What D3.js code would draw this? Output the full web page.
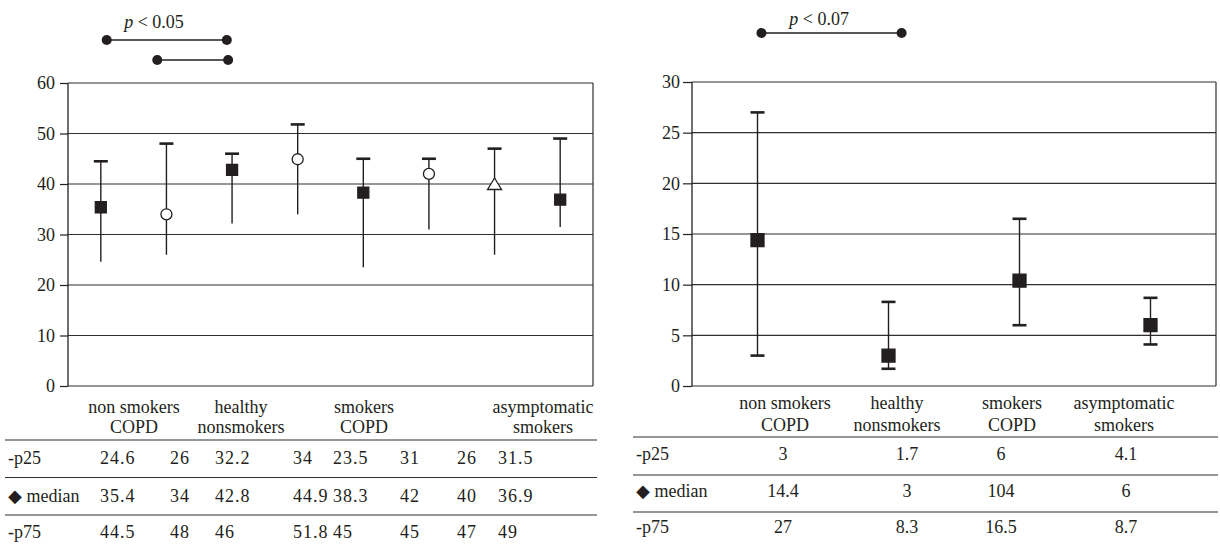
<!DOCTYPE html>
<html lang="en">
<head>
<meta charset="utf-8">
<title>COPD groups</title>
<style>
  body { margin: 0; background: #fff; }
  svg text { font-family: "Liberation Serif", "Times New Roman", serif; fill: #231f20; font-size: 18px; }
  .grid line, .rule { stroke: #2e2e2e; stroke-width: 1.2; }
  .num { letter-spacing: 1px; }
</style>
</head>
<body>
<div id="container"></div>
<script src="https://cdnjs.cloudflare.com/ajax/libs/d3/7.8.5/d3.min.js"></script>
<script>
// ---- data, left panel (8 measurements) ----
var leftShapes = ["square", "circle", "square", "circle", "square", "circle", "triangle", "square"];
var leftP25 = [24.6, 26, 32.2, 34, 23.5, 31, 26, 31.5];
var leftMedian = [35.4, 34, 42.8, 44.9, 38.3, 42, 40, 36.9];
var leftP75 = [44.5, 48, 46, 51.8, 45, 45, 47, 49];
var leftTicks = [0, 10, 20, 30, 40, 50, 60];

// ---- data, right panel (4 groups) ----
var rightP25 = [3, 1.7, 6, 4.1];
var rightMedian = [14.4, 3, 10.4, 6];
var rightP75 = [27, 8.3, 16.5, 8.7];
var rightTicks = [0, 5, 10, 15, 20, 25, 30];
// the table under the right chart prints the median of smokers COPD as "104"
var rightMedianText = ["14.4", "3", "104", "6"];

var groupNames = [["non smokers", "COPD"], ["healthy", "nonsmokers"], ["smokers", "COPD"], ["asymptomatic", "smokers"]];
var rowNames = ["-p25", "\u25C6 median", "-p75"];

// significance brackets, ends given in category-index units
var leftBrackets = [{from: 0.09, to: 1.92, label: "0.05", at: 0.81}, {from: 0.86, to: 1.94}];
var rightBrackets = [{from: 0.03, to: 1.1, label: "0.07", at: 0.47}];

var svg = d3.select("#container").append("svg")
  .attr("width", 1220)
  .attr("height", 547);

function drawPanel(o) {
  var n = o.median.length;
  var g = svg.append("g");

  var x = d3.scaleLinear().domain([-0.5, n - 0.5]).range([o.x0, o.x1]);
  var y = d3.scaleLinear().domain([0, o.ticks[o.ticks.length - 1]]).range([386, o.yTop]);

  // horizontal gridlines
  g.append("g").attr("class", "grid")
    .selectAll("line").data(o.ticks).enter().append("line")
    .attr("x1", o.x0).attr("x2", o.x1)
    .attr("y1", function(d) { return y(d); })
    .attr("y2", function(d) { return y(d); });

  // right border
  g.append("line").attr("class", "rule")
    .attr("x1", o.x1).attr("x2", o.x1).attr("y1", y.range()[0]).attr("y2", y.range()[1]);

  // y axis
  var yAxis = d3.axisLeft(y).tickValues(o.ticks).tickSize(o.tickSize).tickPadding(o.tickPad);
  var ax = g.append("g").attr("transform", "translate(" + o.x0 + ",0)").call(yAxis);
  ax.selectAll(".tick line").attr("stroke", "#231f20").attr("stroke-width", 1.2);
  ax.selectAll(".tick text").style("font-size", "18px").attr("fill", "#231f20").attr("dy", "0.33em");
  ax.select(".domain").attr("d", "M0," + y.range()[0] + "V" + y.range()[1])
    .attr("stroke", "#231f20").attr("stroke-width", 1.3);

  var idx = d3.range(n);

  // whiskers
  g.selectAll(".whisker").data(idx).enter().append("line")
    .attr("class", "whisker")
    .attr("x1", function(i) { return x(i); }).attr("x2", function(i) { return x(i); })
    .attr("y1", function(i) { return y(o.p25[i]); })
    .attr("y2", function(i) { return y(o.p75[i]); })
    .attr("stroke", "#231f20").attr("stroke-width", 1.4);

  var capEnds = o.bothCaps ? [o.p25, o.p75] : [o.p75];
  capEnds.forEach(function(arr) {
    g.selectAll(null).data(idx).enter().append("line")
      .attr("x1", function(i) { return x(i) - 7; }).attr("x2", function(i) { return x(i) + 7; })
      .attr("y1", function(i) { return y(arr[i]); })
      .attr("y2", function(i) { return y(arr[i]); })
      .attr("stroke", "#231f20").attr("stroke-width", 2.6);
  });

  // median markers
  var s = o.sq;
  g.selectAll(".mark").data(idx).enter().append("path")
    .attr("class", "mark")
    .attr("transform", function(i) { return "translate(" + x(i) + "," + y(o.median[i]) + ")"; })
    .attr("d", function(i) {
      var shape = o.shapes ? o.shapes[i] : "square";
      if (shape === "circle") return "M5.5,0A5.5,5.5 0 1,1 -5.5,0A5.5,5.5 0 1,1 5.5,0Z";
      if (shape === "triangle") return "M0,-6L7,5.5L-7,5.5Z";
      return "M" + (-s / 2) + "," + (-s / 2) + "h" + s + "v" + s + "h" + (-s) + "Z";
    })
    .attr("fill", function(i) { return (o.shapes && o.shapes[i] !== "square") ? "#fff" : "#231f20"; })
    .attr("stroke", "#231f20").attr("stroke-width", 1.3);

  // significance brackets
  o.brackets.forEach(function(b, k) {
    var by = o.bracketY[k];
    g.append("line")
      .attr("x1", x(b.from)).attr("x2", x(b.to)).attr("y1", by).attr("y2", by)
      .attr("stroke", "#231f20").attr("stroke-width", 1.3);
    g.selectAll(null).data([b.from, b.to]).enter().append("circle")
      .attr("cx", function(d) { return x(d); }).attr("cy", by).attr("r", 5)
      .attr("fill", "#231f20");
    if (b.label) {
      var t = g.append("text").attr("x", x(b.at)).attr("y", o.labelY).attr("text-anchor", "middle");
      t.append("tspan").style("font-style", "italic").text("p");
      t.append("tspan").text(" < " + b.label);
    }
  });

  // group headers
  o.headerX.forEach(function(hx, k) {
    groupNames[k].forEach(function(line, j) {
      g.append("text").attr("x", hx).attr("y", o.headY[j]).attr("text-anchor", "middle").text(line);
    });
  });

  // table rules
  g.selectAll(".trule").data(o.ruleY).enter().append("line")
    .attr("class", "rule")
    .attr("x1", o.tableX0).attr("x2", o.tableX1)
    .attr("y1", function(d) { return d; }).attr("y2", function(d) { return d; });

  // table rows
  o.rows.forEach(function(row, r) {
    g.append("text").attr("x", o.tableX0 + 3).attr("y", o.rowY[r]).text(rowNames[r]);
    g.selectAll(null).data(row).enter().append("text")
      .attr("class", o.numClass)
      .attr("x", function(d, i) { return o.colX[i]; })
      .attr("y", o.rowY[r])
      .attr("text-anchor", o.colAnchor)
      .text(function(d) { return d; });
  });
}

drawPanel({
  x0: 68, x1: 593, yTop: 83, ticks: leftTicks, tickSize: 8, tickPad: 5,
  p25: leftP25, median: leftMedian, p75: leftP75, shapes: leftShapes, sq: 11, bothCaps: false,
  brackets: leftBrackets, bracketY: [40, 60], labelY: 28,
  headerX: [134, 241, 364, 543], headY: [413, 433],
  tableX0: 5, tableX1: 597, ruleY: [440, 477.5, 515], rowY: [464, 501.5, 538],
  rows: [leftP25.map(String), leftMedian.map(String), leftP75.map(String)],
  colX: [100, 170, 215, 293, 333, 400, 457, 498], colAnchor: "start", numClass: "num"
});

drawPanel({
  x0: 692, x1: 1216, yTop: 82, ticks: rightTicks, tickSize: 9, tickPad: 3,
  p25: rightP25, median: rightMedian, p75: rightP75, shapes: null, sq: 13, bothCaps: true,
  brackets: rightBrackets, bracketY: [33], labelY: 25,
  headerX: [785, 897, 1012, 1124], headY: [409, 431],
  tableX0: 633, tableX1: 1218, ruleY: [437, 475, 512], rowY: [460, 497, 533],
  rows: [rightP25.map(String), rightMedianText, rightP75.map(String)],
  colX: [783, 907, 1001, 1126], colAnchor: "middle", numClass: "val"
});
</script>
</body>
</html>
